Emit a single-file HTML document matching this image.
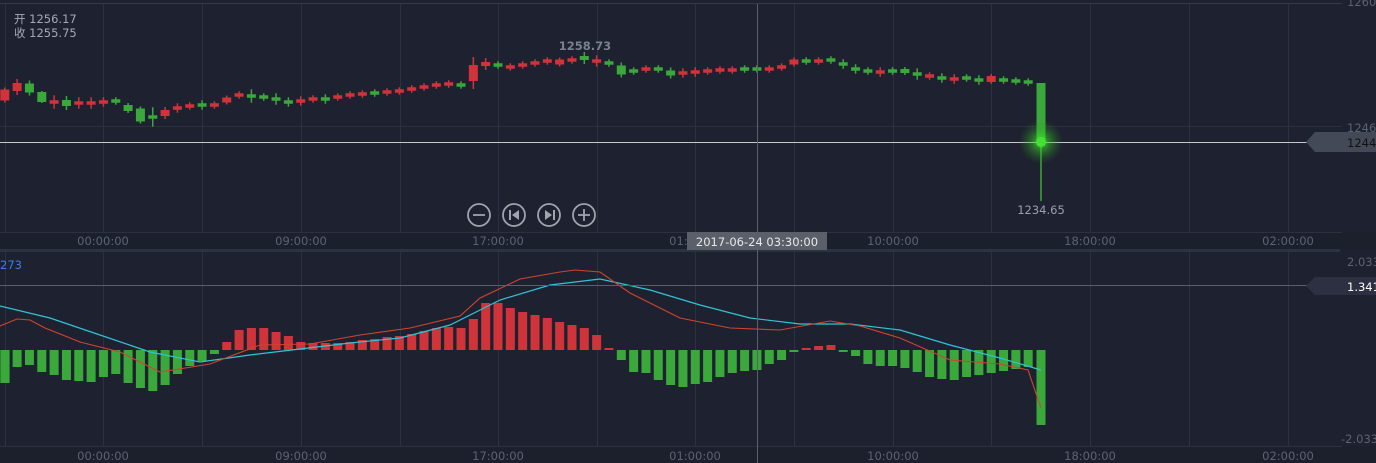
<!DOCTYPE html>
<html><head><meta charset="utf-8"><style>
html,body{margin:0;padding:0;background:#1e2230;}
body{width:1376px;height:463px;overflow:hidden;position:relative;font-family:"DejaVu Sans","Noto Sans CJK SC",sans-serif;}
svg{position:absolute;left:0;top:0;font-family:"DejaVu Sans","Noto Sans CJK SC",sans-serif;}
</style></head><body>
<svg id="s" width="1376" height="463" xmlns="http://www.w3.org/2000/svg">
<rect x="0" y="0" width="1376" height="463" fill="#1e2230"/>
<g id="grid"></g>
<g id="cand"></g>
<g id="macd"></g>
<polyline fill="none" stroke="#2ec4d6" stroke-width="1.2" points="0,306 50,318 100,335 150,352 200,362 250,355 300,349 350,343 400,338 450,325 500,300 550,285 600,279 650,290 700,305 750,318 800,324 850,324 900,330 950,345 1000,358 1041,370"/>
<polyline fill="none" stroke="#d0432f" stroke-width="1.1" points="0,326 17,319 30,320 45,328 80,342 120,352 160,372 210,364 260,345 310,344 360,335 410,328 460,316 480,298 520,279 560,272 575,270 600,272 630,293 680,318 730,328 780,330 830,321 860,326 900,338 950,360 1000,364 1028,370 1041,408"/>
<line x1="0" y1="142.5" x2="1310" y2="142.5" stroke="#c8c8c8" stroke-width="1"/>
<polygon points="1306,142 1315,132 1376,132 1376,152 1315,152" fill="#434957"/>
<text x="1347" y="147" font-size="11.5" fill="#111">1244</text>
<text x="1347" y="132" font-size="11.5" fill="#5c6272">1246</text>
<text x="1347" y="6" font-size="11.5" fill="#5c6272">1260</text>
<defs><radialGradient id="gl"><stop offset="0" stop-color="#4cff3a" stop-opacity="0.9"/><stop offset="0.35" stop-color="#3ad02a" stop-opacity="0.5"/><stop offset="1" stop-color="#2a8a20" stop-opacity="0"/></radialGradient></defs>
<circle cx="1041" cy="142" r="22" fill="url(#gl)"/>
<circle cx="1041" cy="142" r="5" fill="#44e032"/>
<text x="1041" y="214" font-size="11.5" fill="#9aa0ab" text-anchor="middle">1234.65</text>
<text x="585" y="50" font-size="11.5" font-weight="bold" fill="#7a808c" text-anchor="middle">1258.73</text>
<text x="14" y="23" font-size="11.5" fill="#a5a9b2">开 1256.17</text>
<text x="14" y="37" font-size="11.5" fill="#a5a9b2">收 1255.75</text>
<g fill="none" stroke="#a0a4ac" stroke-width="1.8">
<circle cx="479" cy="215" r="11"/><line x1="473" y1="215" x2="485" y2="215"/>
<circle cx="514" cy="215" r="11"/><circle cx="549" cy="215" r="11"/>
<circle cx="584" cy="215" r="11"/><line x1="578" y1="215" x2="590" y2="215"/><line x1="584" y1="209" x2="584" y2="221"/>
</g>
<g fill="#a0a4ac"><rect x="509" y="210" width="2" height="10"/><polygon points="519,210 519,220 512,215"/>
<rect x="553" y="210" width="2" height="10"/><polygon points="545,210 545,220 552,215"/></g>
<line x1="0" y1="285.5" x2="1310" y2="285.5" stroke="#5a5f6a" stroke-width="1"/>
<polygon points="1306,286 1315,277 1376,277 1376,295 1315,295" fill="#2c3040"/>
<text x="1347" y="291" font-size="11.5" fill="#ffffff">1.341</text>
<text x="1347" y="266" font-size="11.5" fill="#5c6272">2.033</text>
<text x="1341" y="443" font-size="11.5" fill="#5c6272">-2.033</text>
<text x="0" y="269" font-size="11.5" fill="#3d7ee0">273</text>
<line x1="757.5" y1="4" x2="757.5" y2="463" stroke="#5a5f6a" stroke-width="1"/>
<rect x="687" y="232" width="140" height="18" fill="#5a5f6a"/>
<text x="757" y="246" font-size="11.5" fill="#e8e8e8" text-anchor="middle">2017-06-24 03:30:00</text>
</svg>
<script>
var ns="http://www.w3.org/2000/svg";
function el(p,t,a){var e=document.createElementNS(ns,t);for(var k in a)e.setAttribute(k,a[k]);p.appendChild(e);return e;}
var g=document.getElementById('grid');
el(g,'rect',{x:0,y:232,width:1376,height:18,fill:'#1c202c'});
el(g,'rect',{x:0,y:249,width:1340,height:3,fill:'#2b3240'});
el(g,'rect',{x:0,y:446,width:1376,height:17,fill:'#1c202c'});
var xs=[5,103,202,301,400,498,597,695,794,893,991,1090,1189,1288];
xs.forEach(function(x){el(g,'line',{x1:x+.5,y1:4,x2:x+.5,y2:232,stroke:'#2c3140'});el(g,'line',{x1:x+.5,y1:252,x2:x+.5,y2:446,stroke:'#2c3140'});});
[[3.5,'#343a4a'],[126.5,'#2c3140'],[232.5,'#2c3140'],[446.5,'#2c3140']].forEach(function(h){el(g,'line',{x1:0,y1:h[0],x2:1342,y2:h[0],stroke:h[1]});});
var labs=[[103,'00:00:00'],[301,'09:00:00'],[498,'17:00:00'],[695,'01:00:00'],[893,'10:00:00'],[1090,'18:00:00'],[1288,'02:00:00']];
labs.forEach(function(l){[241,456].forEach(function(y){var t=el(g,'text',{x:l[0],y:y+4,'font-size':11.5,fill:'#5c6272','text-anchor':'middle'});t.textContent=l[1];});});
var R='#d0333a',G='#3aa83a';
var m=[[95,'r'],[87,'r'],[88,'g'],[97,'g'],[102,'r'],[103,'g'],[103,'r'],[103,'r'],[102,'r'],[101,'g'],[108,'g'],[115,'g'],[117,'g'],[113,'r'],[108,'r'],[106,'r'],[105,'g'],[105,'r'],[100,'r'],[95,'r'],[96,'g'],[97,'g'],[99,'g'],[102,'g'],[101,'r'],[99,'r'],[99,'g'],[97,'r'],[95,'r'],[94,'r'],[93,'g'],[92,'r'],[91,'r'],[89,'r'],[87,'r'],[85,'r'],[84,'r'],[85,'g'],[73,'r'],[64,'r'],[65,'g'],[67,'r'],[65,'r'],[63,'r'],[61,'r'],[62,'r'],[60,'r'],[58,'g'],[61,'r'],[63,'g'],[70,'g'],[71,'g'],[69,'r'],[69,'g'],[73,'g'],[73,'r'],[72,'r'],[71,'r'],[70,'r'],[70,'r'],[69,'g'],[69,'g'],[69,'r'],[67,'r'],[62,'r'],[61,'g'],[61,'r'],[60,'g'],[64,'g'],[69,'g'],[71,'g'],[72,'r'],[71,'g'],[71,'g'],[74,'g'],[76,'r'],[78,'g'],[79,'r'],[78,'g'],[80,'g'],[79,'r'],[80,'g'],[81,'g'],[82,'g']];
var bh={0:11,1:8,2:9,3:10,11:13,38:16,50:9,5:6,39:4,13:6,18:5,45:5,64:5,80:6,73:4,10:6,54:5,47:4};
var c=document.getElementById('cand');
function cx(i){return 4.8+i*12.33;}
m.forEach(function(d,i){var h=bh[i]||3.5,x=cx(i),col=d[1]=='r'?R:G;
 var wl=[2,4,3,1,5,4,4,4,3,2,2,2,8,3,3,2,3,2,2,2,5,2,4,3,3,2,3,2,2,2,2,2,2,2,2,2,2,2,8,4,2,2,2,2,2,2,2,4,4,2,3,2,2,2,3,3,3,2,2,2,2,2,2,2,2,2,2,2,3,3,2,3,2,2,4,2,3,3,2,3,2,2,2,2][i];
 el(c,'line',{x1:x,y1:d[0]-h/2-wl,x2:x,y2:d[0]+h/2+wl,stroke:col,'stroke-width':1.5});
 el(c,'rect',{x:x-4.5,y:d[0]-h/2,width:9,height:h,fill:col});});
el(c,'line',{x1:1041,y1:83,x2:1041,y2:201,stroke:G,'stroke-width':1.5});
el(c,'rect',{x:1036.5,y:83,width:9,height:59,fill:G});
var v=[-33,-17,-15,-22,-25,-30,-31,-32,-27,-24,-33,-38,-41,-35,-24,-16,-11,-4,8,20,22,22,18,14,8,7,7,7,8,10,11,13,14,16,19,22,23,22,31,47,47,42,38,35,32,28,25,22,15,2,-10,-22,-23,-30,-35,-37,-34,-32,-27,-23,-21,-20,-14,-10,-2,2,4,5,-2,-6,-14,-16,-16,-18,-22,-27,-29,-30,-27,-25,-23,-21,-19,-17,-75];
var mg=document.getElementById('macd');
v.forEach(function(h,i){var x=i==84?1041:cx(i);var col=h>=0?R:G;var y=h>=0?350-h:350,hh=Math.max(Math.abs(h),1.5);
 el(mg,'rect',{x:Math.max(x-4.5,0),y:y,width:i==0?x+4.5:9,height:hh,fill:col});});
</script>
</body></html>
